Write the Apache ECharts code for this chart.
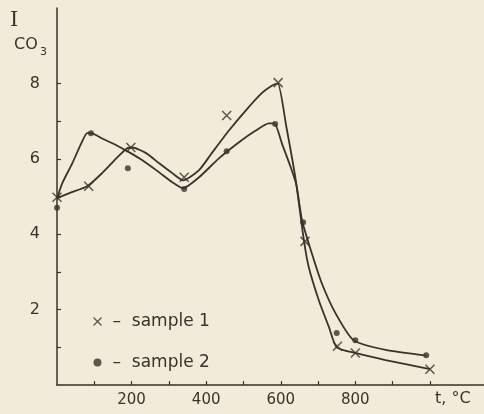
<!DOCTYPE html>
<html><head><meta charset="utf-8">
<script src="https://cdn.jsdelivr.net/npm/echarts@6/dist/echarts.min.js"></script>
<style>html,body{margin:0;padding:0;background:#f2ebd9;}#c{width:484px;height:414px;}</style>
</head><body><div id="c"></div>
<script>
// Hand-drawn curves (points the smooth lines pass through): [t °C, I]
const curve1 = [[0,4.95],[33,5.09],[81,5.27],[121,5.62],[159,6.01],[188,6.28],[202,6.30],[239,6.15],[274,5.88],[309,5.62],[338,5.43],[381,5.70],[415,6.15],[461,6.75],[506,7.28],[549,7.74],[578,7.95],[592,8.0],[615,6.85],[640,5.45],[662,3.84],[675,3.13],[702,2.25],[729,1.54],[750,1.0],[800,0.85],[881,0.66],[1000,0.42]];
const curve2 = [[0,4.95],[14,5.35],[41,5.88],[65,6.41],[81,6.68],[92,6.68],[121,6.54],[159,6.36],[194,6.17],[229,5.96],[274,5.64],[309,5.38],[338,5.22],[381,5.51],[434,6.01],[488,6.44],[533,6.75],[568,6.94],[583,6.94],[603,6.41],[627,5.77],[642,5.3],[657,4.37],[683,3.5],[710,2.70],[747,1.9],[795,1.19],[881,0.93],[990,0.78]];
// Measured points
const points1 = [[0,4.98],[85,5.27],[198,6.3],[341,5.51],[455,7.15],[593,8.02],[665,3.81],[752,1.03],[800,0.85],[1000,0.42]];
const points2 = [[0,4.7],[91,6.68],[190,5.75],[341,5.2],[455,6.2],[585,6.92],[660,4.32],[750,1.38],[800,1.19],[990,0.79]];
const yTickValues = [1,2,3,4,5,6,7,8];
const yLabelValues = [2,4,6,8];
const xTickValues = [100,200,300,400,500,600,700,800,900,1000];
const xLabelValues = [200,400,600,800];
const seriesNames = ['sample 1','sample 2'];

const ink = '#3a322b';
const font = 'DejaVu Sans';
const crossPath = 'path://M0,0L10,10M10,0L0,10';

const chart = echarts.init(document.getElementById('c'), null, {renderer:'canvas'});
chart.setOption({
  backgroundColor: '#f2ebd9',
  animation: false,
  grid: {left: 57, right: 0, top: 8, bottom: 29},
  xAxis: {
    type: 'value', min: 0, max: 1145,
    axisLine: {lineStyle: {color: ink, width: 1.5}},
    axisTick: {inside: true, length: 4, customValues: xTickValues, lineStyle: {color: ink, width: 1.2}},
    axisLabel: {customValues: xLabelValues, color: ink, fontFamily: font, fontSize: 15, margin: 8},
    splitLine: {show: false}
  },
  yAxis: {
    type: 'value', min: 0, max: 10,
    axisLine: {show: true, lineStyle: {color: ink, width: 1.5}},
    axisTick: {show: true, inside: true, length: 4, customValues: yTickValues, lineStyle: {color: ink, width: 1.2}},
    axisLabel: {customValues: yLabelValues, color: ink, fontFamily: font, fontSize: 16, margin: 17},
    splitLine: {show: false}
  },
  legend: {
    orient: 'vertical', left: 86, top: 308, itemGap: 24, itemWidth: 8, itemHeight: 8,
    data: [
      {name: seriesNames[0], icon: crossPath, itemStyle: {color: 'none', borderColor: ink, borderWidth: 1.3}},
      {name: seriesNames[1], icon: 'circle', itemStyle: {color: ink}}
    ],
    formatter: n => '–  ' + n,
    textStyle: {color: ink, fontFamily: font, fontSize: 17, padding: [0,0,0,6]}
  },
  graphic: [
    {type: 'text', left: 10, top: 10, style: {text: 'I', fill: ink, font: '21px "DejaVu Serif"'}},
    {type: 'text', left: 14, top: 37, style: {text: 'CO', fill: ink, font: '16px "DejaVu Sans"'}},
    {type: 'text', left: 40, top: 47, style: {text: '3', fill: ink, font: '11px "DejaVu Sans"'}},
    {type: 'text', left: 435, top: 391, style: {text: 't, °C', fill: ink, font: '16px "DejaVu Sans"'}}
  ],
  series: [
    {type: 'line', data: curve1, smooth: 0.2, showSymbol: false, lineStyle: {color: ink, width: 1.8}, silent: true},
    {type: 'line', data: curve2, smooth: 0.2, showSymbol: false, lineStyle: {color: ink, width: 1.8}, silent: true},
    {name: seriesNames[0], type: 'scatter', data: points1, symbol: crossPath, symbolSize: 9,
     itemStyle: {color: 'none', borderColor: ink, borderWidth: 1.5}},
    {name: seriesNames[1], type: 'scatter', data: points2, symbol: 'circle', symbolSize: 6,
     itemStyle: {color: ink}}
  ]
});
</script></body></html>
